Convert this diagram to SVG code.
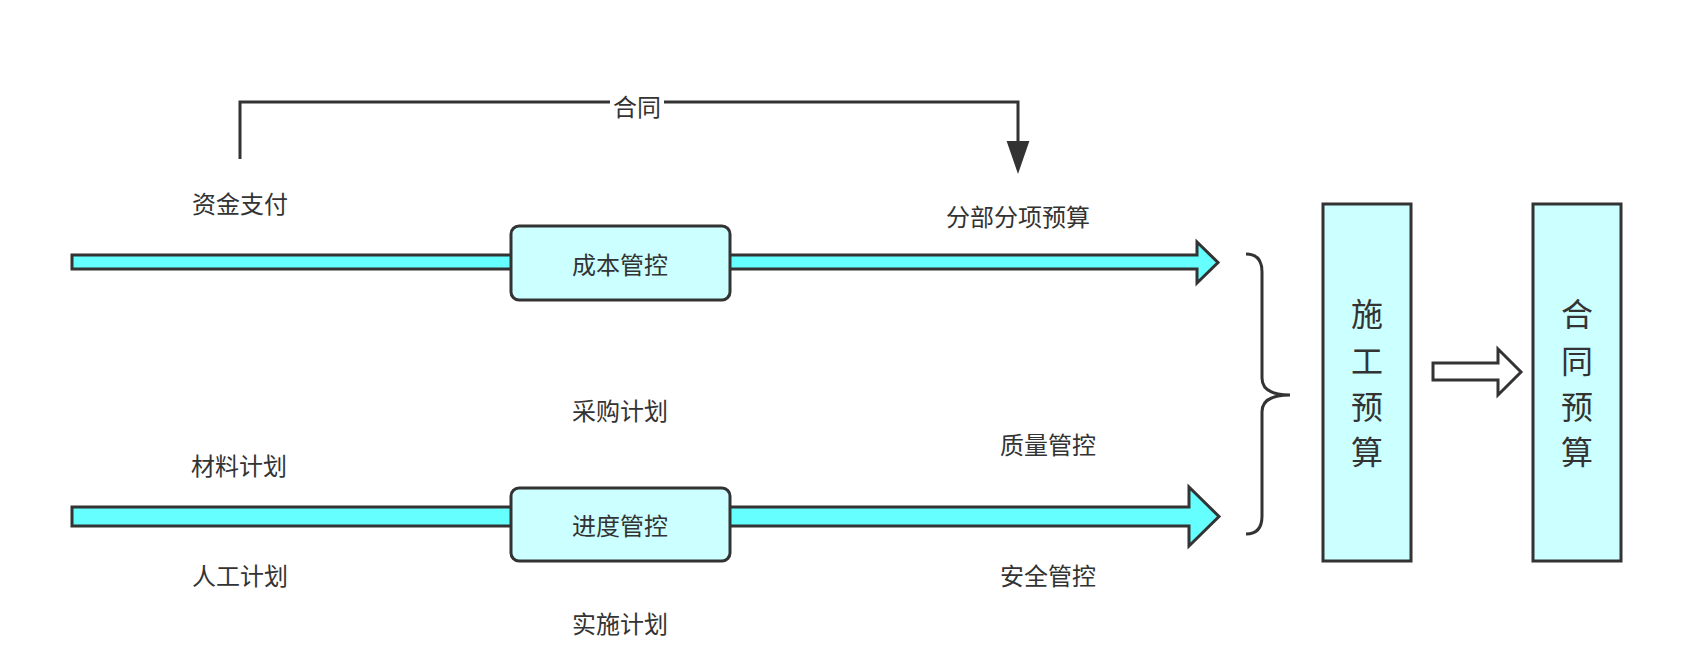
<svg xmlns="http://www.w3.org/2000/svg" width="1684" height="660" viewBox="0 0 1684 660">
<style>
.t{font-family:"Noto Sans CJK SC","Noto Sans",sans-serif;font-size:24px;fill:#333;text-anchor:middle;dominant-baseline:central}
.v{font-family:"Noto Sans CJK SC","Noto Sans",sans-serif;font-size:32px;fill:#333;text-anchor:middle;dominant-baseline:central}
.bar{fill:#66FFFF;stroke:#333;stroke-width:3;stroke-linejoin:miter}
.box{fill:#CCFFFF;stroke:#333;stroke-width:3}
.ln{fill:none;stroke:#333;stroke-width:3}
</style>
<rect width="1684" height="660" fill="#fff"/>
<g id="connectors">
<path class="ln" d="M240,159 L240,102 L1018,102 L1018,145"/>
<polygon points="1008,142 1028,142 1018,171" fill="#333" stroke="#333" stroke-width="2"/>
<rect x="610" y="94" width="54" height="20" fill="#fff"/>
<text class="t" x="637" y="105">合同</text>
<polygon class="bar" points="72,255 1197,255 1197,242 1218,262.5 1197,283 1197,269 72,269"/>
<polygon class="bar" points="72,507 1189,507 1189,487 1219,516.5 1189,546 1189,526 72,526"/>
<path class="ln" d="M1246,254 Q1262,254 1262,272 L1262,378 Q1262,395 1290,395 Q1262,395 1262,412 L1262,516 Q1262,534 1246,534"/>
<polygon points="1433,363 1498,363 1498,349 1521,372 1498,395 1498,380 1433,380" fill="#fff" stroke="#333" stroke-width="3"/>
</g>
<g id="cost">
<rect class="box" x="511" y="226" width="219" height="74" rx="8"/>
<text class="t" x="620" y="263">成本管控</text>
</g>
<g id="progress">
<rect class="box" x="511" y="488" width="219" height="73" rx="8"/>
<text class="t" x="620" y="524">进度管控</text>
</g>
<g id="construction-budget">
<rect class="box" x="1323" y="204" width="88" height="357"/>
<text class="v" x="1367" y="312">施</text>
<text class="v" x="1367" y="359">工</text>
<text class="v" x="1367" y="405">预</text>
<text class="v" x="1367" y="450">算</text>
</g>
<g id="contract-budget">
<rect class="box" x="1533" y="204" width="88" height="357"/>
<text class="v" x="1577" y="312">合</text>
<text class="v" x="1577" y="359">同</text>
<text class="v" x="1577" y="405">预</text>
<text class="v" x="1577" y="450">算</text>
</g>
<g id="labels">
<text class="t" x="240" y="202">资金支付</text>
<text class="t" x="1018" y="215">分部分项预算</text>
<text class="t" x="620" y="409">采购计划</text>
<text class="t" x="239" y="464">材料计划</text>
<text class="t" x="1048" y="443">质量管控</text>
<text class="t" x="240" y="574">人工计划</text>
<text class="t" x="1048" y="574">安全管控</text>
<text class="t" x="620" y="622">实施计划</text>
</g>
</svg>
